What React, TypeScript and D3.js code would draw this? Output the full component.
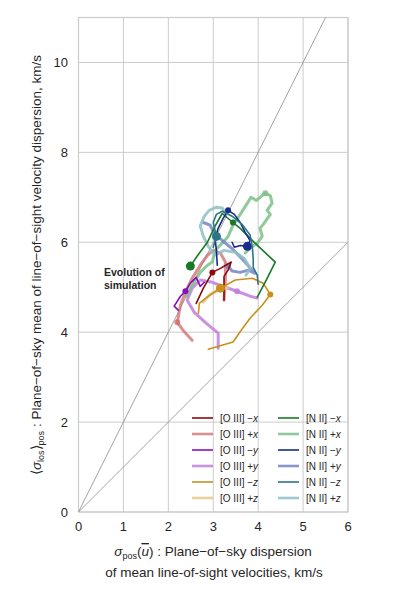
import React from 'react';
import * as d3 from 'd3';

type P = [number, number];

const xTicks = [0, 1, 2, 3, 4, 5, 6];
const yTicks = [0, 2, 4, 6, 8, 10];
const refSlopes = [1, 2];

// [O III] tracks
const oIIIMinusX: P[] = [[2.62, 4.64], [2.78, 4.98], [2.98, 5.33], [3.16, 5.42], [3.40, 5.56], [3.33, 5.38], [3.24, 5.24], [3.24, 4.93], [3.24, 4.71]];
const oIIIPlusX: P[] = [[2.53, 3.82], [2.33, 4.04], [2.20, 4.22], [2.27, 4.60], [2.38, 4.89], [2.53, 5.20], [2.71, 5.49], [2.87, 5.71], [3.00, 5.82], [3.16, 5.76], [3.27, 5.56], [3.27, 5.16], [3.24, 4.71]];
const oIIIMinusY: P[] = [[2.22, 4.49], [2.13, 4.58], [2.27, 4.80], [2.38, 4.91], [2.49, 5.09], [2.62, 5.22], [2.71, 5.02], [2.80, 5.11]];
const oIIIPlusY: P[] = [[3.11, 3.64], [3.11, 3.98], [2.84, 4.20], [2.58, 4.44], [2.42, 4.71], [2.53, 4.98], [2.71, 5.16], [2.98, 5.11], [3.27, 5.00], [3.53, 4.91], [3.82, 4.80], [3.98, 4.76]];
const oIIIMinusZ: P[] = [[2.67, 4.42], [2.69, 4.64], [2.89, 4.80], [3.16, 4.98], [3.49, 5.16], [3.87, 5.20], [4.11, 5.09], [4.27, 4.84], [4.09, 4.60], [3.82, 4.31], [3.67, 4.11], [3.44, 3.78], [2.89, 3.62]];
const oIIIPlusZ: P[] = [[2.78, 4.67], [2.93, 4.84], [3.11, 4.93], [3.33, 5.00]];

// [N II] tracks
const nIIMinusX: P[] = [[2.49, 5.47], [2.64, 5.69], [2.87, 6.00], [3.04, 6.36], [3.20, 6.64], [3.44, 6.44], [3.60, 6.31], [3.93, 5.98], [4.38, 5.56], [4.18, 5.16], [3.98, 4.78]];
const nIIPlusX: P[] = [[2.40, 4.80], [2.56, 5.09], [2.71, 5.33], [2.87, 5.49], [2.98, 5.56], [3.04, 5.82], [3.20, 5.98], [3.33, 6.13], [3.44, 6.38], [3.60, 6.62], [3.76, 6.87], [3.84, 7.00], [3.96, 6.93], [4.09, 7.04], [4.16, 7.09], [4.27, 7.04], [4.31, 6.87], [4.20, 6.71], [4.27, 6.62], [4.13, 6.42], [4.04, 6.31], [4.09, 6.13], [3.98, 5.98], [3.82, 5.87], [3.71, 5.76]];
const nIIMinusY: P[] = [[3.09, 5.49], [3.07, 5.82], [3.04, 6.09], [3.11, 6.31], [3.22, 6.53], [3.33, 6.71], [3.47, 6.62], [3.60, 6.44], [3.71, 6.22], [3.82, 6.04], [3.76, 5.91], [3.60, 5.93], [3.47, 5.89], [3.42, 6.00]];
const nIIPlusY: P[] = [[2.78, 6.44], [2.93, 6.38], [3.02, 6.20], [3.20, 6.04], [3.44, 5.84], [3.69, 5.58], [3.93, 5.31], [3.78, 5.38], [3.60, 5.33], [3.42, 5.36], [3.33, 5.47]];
const nIIMinusZ: P[] = [[3.00, 5.89], [3.07, 6.13], [3.00, 6.44], [3.07, 6.62], [3.20, 6.69], [3.42, 6.58], [3.64, 6.40], [3.82, 6.16], [3.87, 5.89], [3.89, 5.64], [3.89, 5.44], [3.98, 5.27], [4.00, 5.07]];
const nIIPlusZ: P[] = [[3.73, 5.27], [3.82, 5.42], [3.69, 5.64], [3.49, 5.78], [3.24, 5.82], [3.04, 5.71], [2.89, 5.91], [2.78, 6.13], [2.71, 6.36], [2.80, 6.58], [2.91, 6.71], [3.07, 6.78], [3.20, 6.76], [3.27, 6.64]];

type Series = {
  ion: string; sign: string; dir: string; pts: P[];
  color: string; width: number; opacity: number; big: number[]; small: number[];
};

const oIII: Series[] = [
  { ion: '[O III]', sign: '−', dir: 'x', pts: oIIIMinusX, color: '#8b0a0a', width: 1.6, opacity: 1, big: [], small: [2] },
  { ion: '[O III]', sign: '+', dir: 'x', pts: oIIIPlusX, color: '#d06a6a', width: 3, opacity: 0.75, big: [], small: [2] },
  { ion: '[O III]', sign: '−', dir: 'y', pts: oIIIMinusY, color: '#8a10b8', width: 1.6, opacity: 1, big: [], small: [3] },
  { ion: '[O III]', sign: '+', dir: 'y', pts: oIIIPlusY, color: '#c27ddb', width: 3, opacity: 0.85, big: [], small: [9] },
  { ion: '[O III]', sign: '−', dir: 'z', pts: oIIIMinusZ, color: '#c8901e', width: 1.6, opacity: 1, big: [3], small: [7] },
  { ion: '[O III]', sign: '+', dir: 'z', pts: oIIIPlusZ, color: '#e8c888', width: 3, opacity: 0.85, big: [], small: [] },
];
const nII: Series[] = [
  { ion: '[N II]', sign: '−', dir: 'x', pts: nIIMinusX, color: '#177a28', width: 1.6, opacity: 1, big: [0], small: [5] },
  { ion: '[N II]', sign: '+', dir: 'x', pts: nIIPlusX, color: '#7cbf88', width: 3, opacity: 0.85, big: [], small: [14] },
  { ion: '[N II]', sign: '−', dir: 'y', pts: nIIMinusY, color: '#1a2a8c', width: 1.6, opacity: 1, big: [10], small: [5] },
  { ion: '[N II]', sign: '+', dir: 'y', pts: nIIPlusY, color: '#7484c6', width: 3, opacity: 0.85, big: [], small: [10] },
  { ion: '[N II]', sign: '−', dir: 'z', pts: nIIMinusZ, color: '#2a7585', width: 1.6, opacity: 1, big: [1], small: [] },
  { ion: '[N II]', sign: '+', dir: 'z', pts: nIIPlusZ, color: '#8fbfc6', width: 3, opacity: 0.85, big: [], small: [] },
];

const FONT = "'Liberation Sans', Arial, Helvetica, sans-serif";

export default function App() {
  const W = 399, H = 598;
  const x = d3.scaleLinear().domain([0, 6]).range([78.5, 348]);
  const y = d3.scaleLinear().domain([0, 11]).range([512, 17.5]);
  const line = d3.line<P>().x(d => x(d[0])).y(d => y(d[1]));
  const all = [...oIII, ...nII];
  const drawOrder = [...all.filter(s => s.sign === '+'), ...all.filter(s => s.sign === '−')];
  const [x0, x1] = x.domain();
  const [y0, y1] = y.domain();

  const legendRow0 = 418;
  const legendStep = 16;

  return (
    <svg width={W} height={H} style={{ position: 'absolute', left: 0, top: 0, background: '#fff' }} fontFamily={FONT}>
      <rect x={0} y={0} width={W} height={H} fill="#fff" />
      <defs>
        <clipPath id="plot">
          <rect x={x(x0)} y={y(y1)} width={x(x1) - x(x0)} height={y(y0) - y(y1)} />
        </clipPath>
      </defs>
      {/* grid */}
      {xTicks.map(t => (
        <line key={'gx' + t} x1={x(t)} x2={x(t)} y1={y(y0)} y2={y(y1)} stroke="#cccccc" strokeWidth={1} />
      ))}
      {yTicks.map(t => (
        <line key={'gy' + t} x1={x(x0)} x2={x(x1)} y1={y(t)} y2={y(t)} stroke="#cccccc" strokeWidth={1} />
      ))}
      <rect x={x(x0)} y={y(y1)} width={x(x1) - x(x0)} height={y(y0) - y(y1)} fill="none" stroke="#cccccc" strokeWidth={1.2} />
      {/* reference lines */}
      <g clipPath="url(#plot)">
        {refSlopes.map(s => (
          <line key={'r' + s} x1={x(0)} y1={y(0)} x2={x(x1)} y2={y(s * x1)} stroke="#8c8c8c" strokeWidth={0.8} />
        ))}
        {drawOrder.map((s, i) => (
          <g key={'s' + i}>
            <path d={line(s.pts) || ''} fill="none" stroke={s.color} strokeWidth={s.width} strokeOpacity={s.opacity} strokeLinejoin="round" strokeLinecap="round" />
            {s.big.map(k => (
              <circle key={'b' + k} cx={x(s.pts[k][0])} cy={y(s.pts[k][1])} r={4.5} fill={s.color} fillOpacity={s.opacity} />
            ))}
            {s.small.map(k => (
              <circle key={'m' + k} cx={x(s.pts[k][0])} cy={y(s.pts[k][1])} r={3} fill={s.color} fillOpacity={s.opacity} />
            ))}
          </g>
        ))}
      </g>
      {/* annotation */}
      <text x={104} y={276} fontSize={10.5} fontWeight="bold" fill="#262626">
        <tspan x={104}>Evolution of</tspan>
        <tspan x={104} dy={13}>simulation</tspan>
      </text>
      {/* tick labels */}
      {xTicks.map(t => (
        <text key={'tx' + t} x={x(t)} y={531} fontSize={13} textAnchor="middle" fill="#262626">{t}</text>
      ))}
      {yTicks.map(t => (
        <text key={'ty' + t} x={68} y={y(t) + 4.5} fontSize={13} textAnchor="end" fill="#262626">{t}</text>
      ))}
      {/* legend */}
      {[oIII, nII].map((col, ci) => (
        <g key={'lc' + ci}>
          {col.map((s, i) => {
            const ly = legendRow0 + i * legendStep;
            const lx = ci === 0 ? 192 : 278;
            return (
              <g key={'li' + i}>
                <line x1={lx} x2={lx + 21} y1={ly} y2={ly} stroke={s.color} strokeWidth={s.width === 3 ? 2.6 : 1.6} strokeOpacity={s.opacity} />
                <text x={lx + 28} y={ly + 3.5} fontSize={10} fill="#262626">
                  {s.ion} {s.sign}<tspan fontStyle="italic">{s.dir}</tspan>
                </text>
              </g>
            );
          })}
        </g>
      ))}
      {/* axis labels */}
      <text x={213} y={556} fontSize={13.5} textAnchor="middle" fill="#262626">
        <tspan fontStyle="italic">σ</tspan>
        <tspan fontSize={9} dy={3}>pos</tspan>
        <tspan dy={-3}>(</tspan>
        <tspan fontStyle="italic" textDecoration="overline">u</tspan>
        <tspan>) : Plane−of−sky dispersion</tspan>
      </text>
      <text x={214} y={577} fontSize={13.5} textAnchor="middle" fill="#262626">of mean line-of-sight velocities, km/s</text>
      <text x={41} y={265} fontSize={13.5} textAnchor="middle" fill="#262626" transform="rotate(-90 41 265)">
        <tspan>⟨</tspan>
        <tspan fontStyle="italic">σ</tspan>
        <tspan fontSize={9} dy={3}>los</tspan>
        <tspan dy={-3}>⟩</tspan>
        <tspan fontSize={9} dy={3}>pos</tspan>
        <tspan dy={-3}> : Plane−of−sky mean of line−of−sight velocity dispersion, km/s</tspan>
      </text>
    </svg>
  );
}
